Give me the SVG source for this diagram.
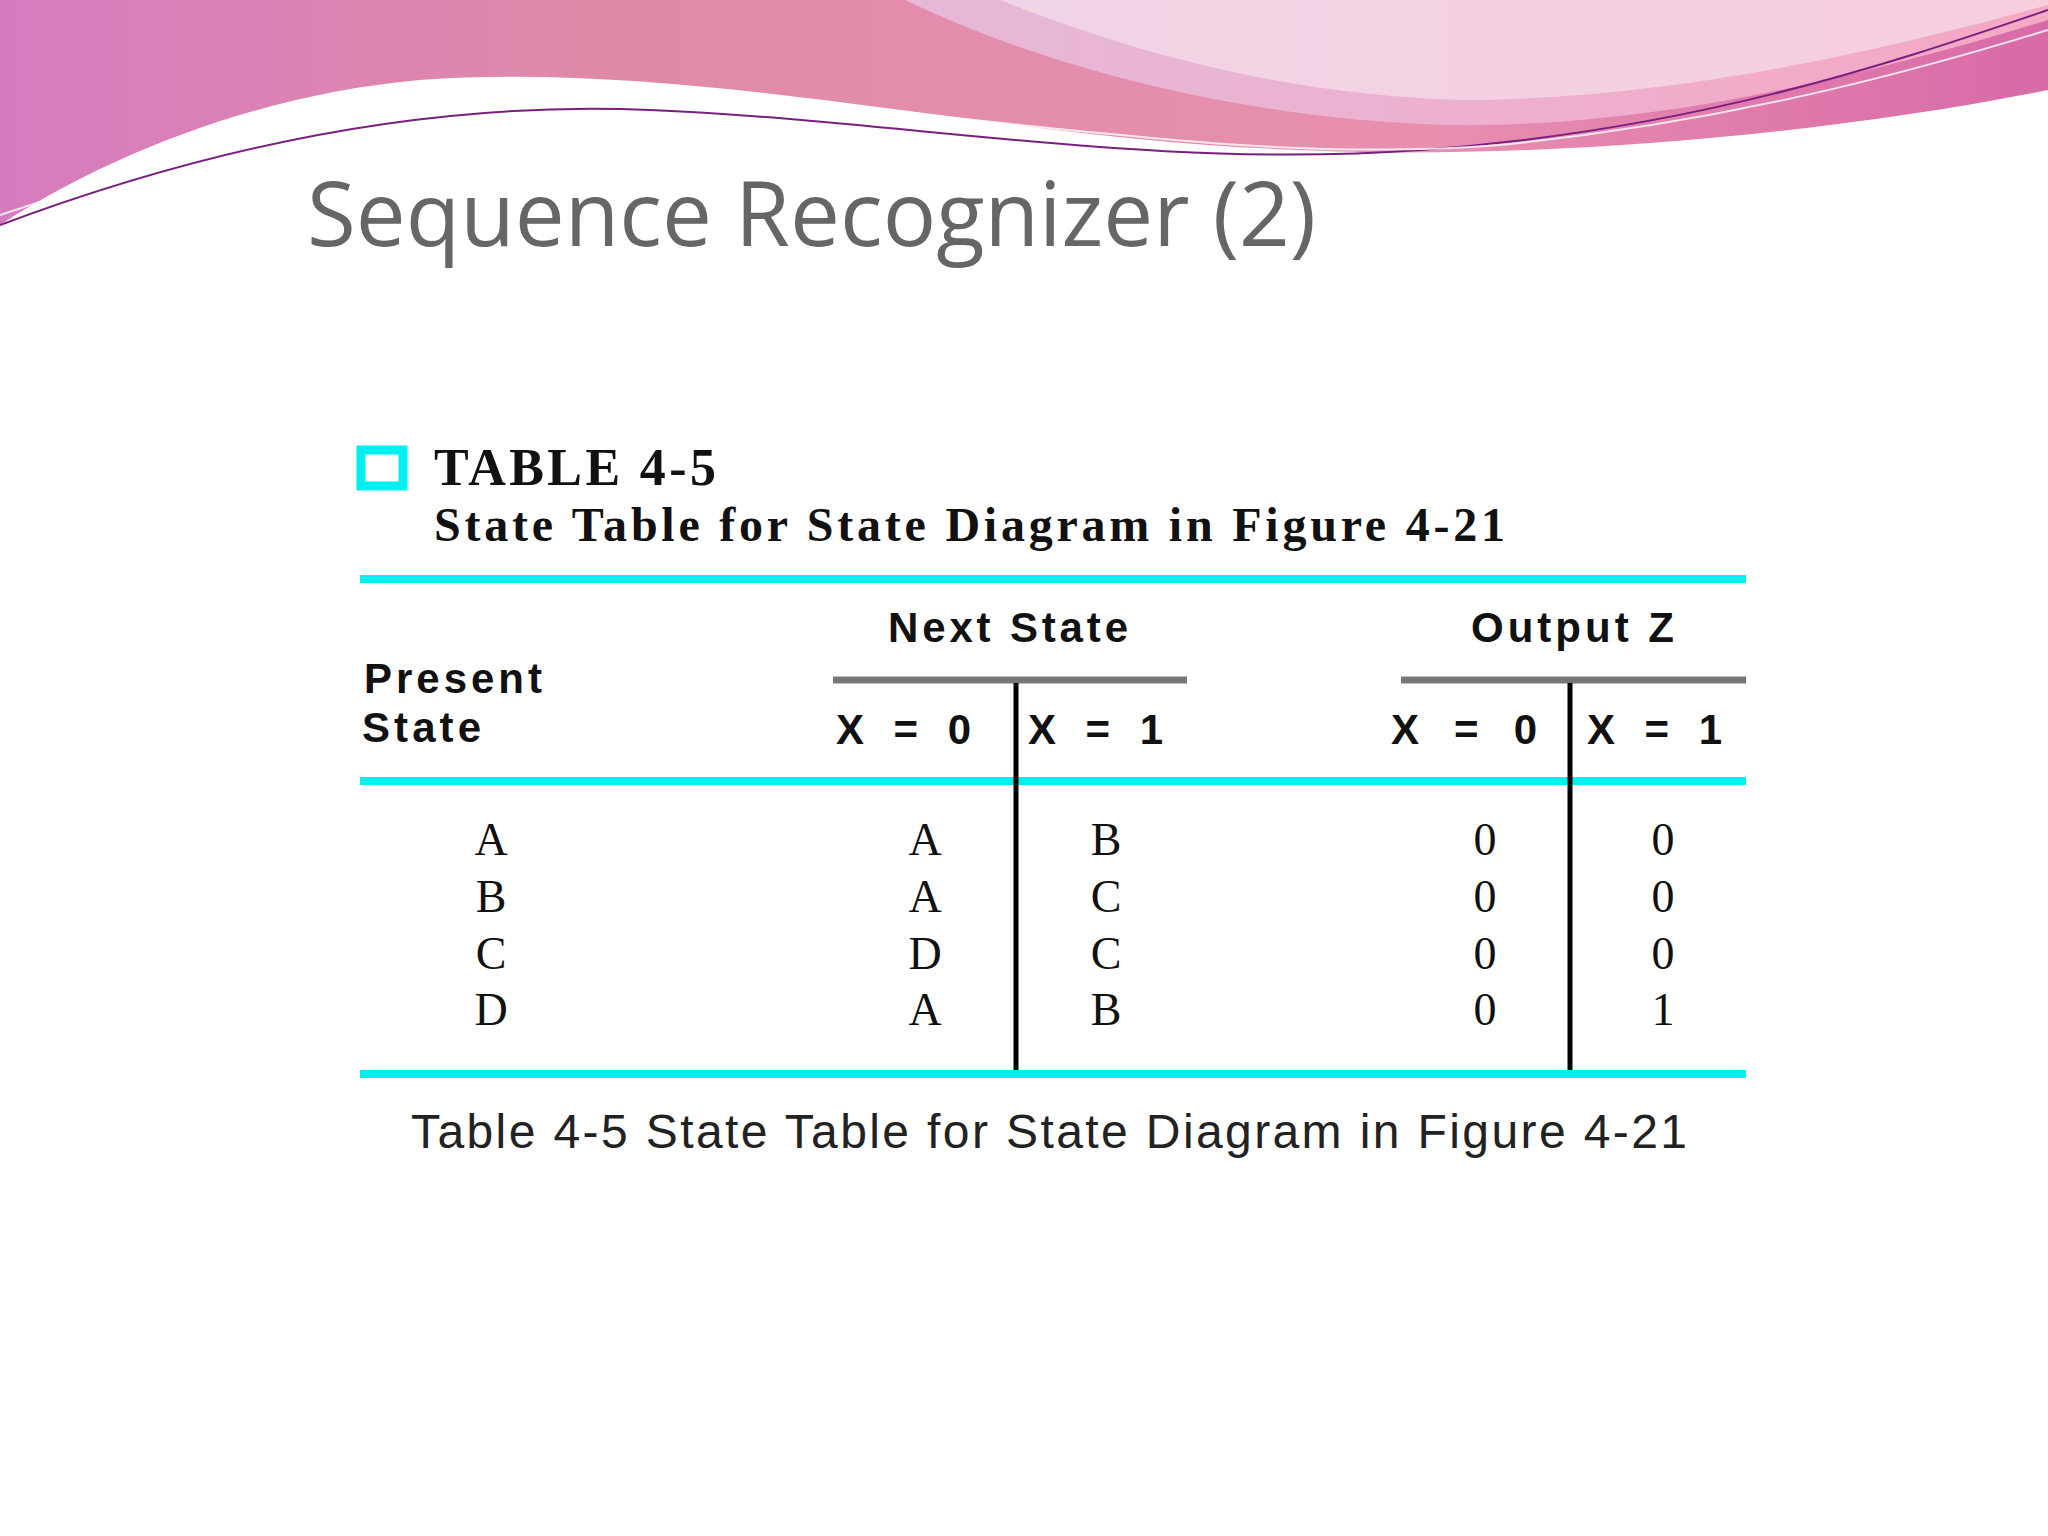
<svg xmlns="http://www.w3.org/2000/svg" width="2048" height="1536" viewBox="0 0 2048 1536">
<defs>
<linearGradient id="pk" x1="0" y1="0" x2="1" y2="0">
<stop offset="0" stop-color="#d77bbf"/><stop offset="0.3" stop-color="#e08aa8"/><stop offset="0.7" stop-color="#e88fb0"/><stop offset="1" stop-color="#d86aa8"/>
</linearGradient>
<linearGradient id="lv" x1="0" y1="0" x2="1" y2="0">
<stop offset="0" stop-color="#e6b8d8"/><stop offset="1" stop-color="#f4a8c4"/>
</linearGradient>
</defs>
<style>
.cy{stroke:#00f0f0;stroke-width:8;fill:none}
.gr{stroke:#777;stroke-width:7}
.bk{stroke:#000;stroke-width:5}
.hd{font-family:"Liberation Sans",Arial,sans-serif;font-weight:bold;font-size:42px;fill:#111;letter-spacing:2px}
.cell{font-family:"Liberation Serif","Times New Roman",serif;font-size:46px;fill:#111;text-anchor:middle}
.ttl{font-family:"Liberation Serif","Times New Roman",serif;font-weight:bold;fill:#111}
</style>
<rect width="2048" height="1536" fill="#fff"/>
<g id="decoration">
<path d="M0,0 H2048 V90 C1800,140 1500,160 1300,150 C1000,140 700,60 420,80 C250,95 100,160 0,225 Z" fill="url(#pk)"/>
<path d="M905,0 C1050,70 1250,120 1450,125 C1650,128 1850,80 2048,20 V0 Z" fill="url(#lv)"/>
<path d="M1000,0 C1150,60 1300,95 1460,100 C1650,100 1850,60 2048,5 V0 Z" fill="#f7e8f0" opacity="0.6"/>
<path d="M0,225 C200,150 420,100 650,110 C900,120 1150,170 1420,150 C1700,130 1900,60 2048,10" fill="none" stroke="#7a1f80" stroke-width="2"/>
<path d="M0,215 C250,130 500,90 750,100 C1000,115 1250,165 1500,145 C1750,120 1950,60 2048,30" fill="none" stroke="#fff" stroke-width="2" opacity="0.8"/>
</g>
<text x="307" y="246" font-family="'Open Sans','Noto Sans',sans-serif" font-size="89" fill="#666">Sequence Recognizer (2)</text>
<g id="table">
<rect x="361" y="450" width="42" height="36" fill="none" stroke="#00f0f0" stroke-width="9"/>
<text class="ttl" x="434" y="485" font-size="52" textLength="282">TABLE 4-5</text>
<text class="ttl" x="434" y="541" font-size="48" textLength="1071">State Table for State Diagram in Figure 4-21</text>
<line class="cy" x1="360" y1="579" x2="1746" y2="579"/>
<line class="cy" x1="360" y1="781" x2="1746" y2="781"/>
<line class="cy" x1="360" y1="1074" x2="1746" y2="1074"/>
<line class="gr" x1="833" y1="680" x2="1187" y2="680"/>
<line class="gr" x1="1401" y1="680" x2="1746" y2="680"/>
<line class="bk" x1="1016" y1="683" x2="1016" y2="1070"/>
<line class="bk" x1="1570" y1="683" x2="1570" y2="1070"/>
<text class="hd" x="888" y="642" textLength="242">Next State</text>
<text class="hd" x="1471" y="642" textLength="205">Output Z</text>
<text class="hd" x="364" y="693" textLength="180">Present</text>
<text class="hd" x="362" y="742" textLength="121">State</text>
<text class="hd" x="836" y="744" textLength="137">X = 0</text>
<text class="hd" x="1028" y="744" textLength="137">X = 1</text>
<text class="hd" x="1391" y="744" textLength="148">X  = 0</text>
<text class="hd" x="1587" y="744" textLength="137">X = 1</text>
<g class="cell">
<text x="491" y="855">A</text><text x="925" y="855">A</text><text x="1106" y="855">B</text><text x="1485" y="855">0</text><text x="1663" y="855">0</text>
<text x="491" y="912">B</text><text x="925" y="912">A</text><text x="1106" y="912">C</text><text x="1485" y="912">0</text><text x="1663" y="912">0</text>
<text x="491" y="969">C</text><text x="925" y="969">D</text><text x="1106" y="969">C</text><text x="1485" y="969">0</text><text x="1663" y="969">0</text>
<text x="491" y="1025">D</text><text x="925" y="1025">A</text><text x="1106" y="1025">B</text><text x="1485" y="1025">0</text><text x="1663" y="1025">1</text>
</g>
<text x="411" y="1148" font-family="'Liberation Sans',Arial,sans-serif" font-size="48" fill="#222" textLength="1276">Table 4-5  State Table for State Diagram in Figure 4-21</text>
</g>
</svg>
